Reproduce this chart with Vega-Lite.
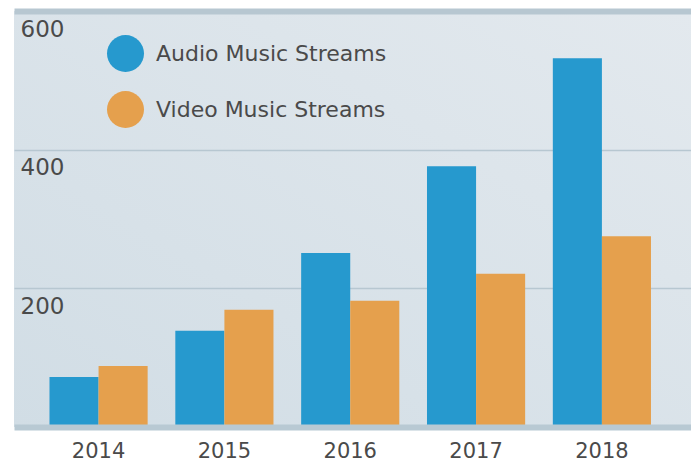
{
  "$schema": "https://vega.github.io/schema/vega-lite/v6.json",
  "width": 677,
  "height": 416,
  "autosize": {"type": "none"},
  "padding": {"left": 14, "top": 11, "right": 0, "bottom": 34},
  "background": "white",
  "config": {
    "font": "DejaVu Sans",
    "view": {
      "stroke": null,
      "fill": {"gradient": "linear", "x1": 0, "y1": 1, "x2": 1, "y2": 0,
        "stops": [{"offset": 0, "color": "#d1dde5"}, {"offset": 1, "color": "#e3e9ee"}]}
    }
  },
  "data": {"values": [
    {"year": "2014", "type": "Audio Music Streams", "value": 72},
    {"year": "2014", "type": "Video Music Streams", "value": 88},
    {"year": "2015", "type": "Audio Music Streams", "value": 139},
    {"year": "2015", "type": "Video Music Streams", "value": 169},
    {"year": "2016", "type": "Audio Music Streams", "value": 251},
    {"year": "2016", "type": "Video Music Streams", "value": 182},
    {"year": "2017", "type": "Audio Music Streams", "value": 376},
    {"year": "2017", "type": "Video Music Streams", "value": 221},
    {"year": "2018", "type": "Audio Music Streams", "value": 532},
    {"year": "2018", "type": "Video Music Streams", "value": 275}
  ]},
  "mark": {"type": "bar"},
  "encoding": {
    "x": {
      "field": "year", "type": "nominal",
      "scale": {"paddingInner": 0.22, "paddingOuter": 0.3, "align": 0.47},
      "axis": {
        "title": null, "ticks": false, "labelAngle": 0,
        "domain": true, "domainColor": "#b8c9d3", "domainWidth": 6, "zindex": 1,
        "labelFontSize": 21, "labelColor": "#4a4a4a",
        "labelBaseline": "alphabetic", "labelPadding": 30
      }
    },
    "xOffset": {"field": "type", "type": "nominal", "scale": {"paddingInner": 0, "paddingOuter": 0}},
    "y": {
      "field": "value", "type": "quantitative",
      "scale": {"domain": [0, 600], "nice": false},
      "axis": {
        "title": null, "ticks": false, "domain": false,
        "values": [200, 400, 600],
        "gridColor": "#b7c7d1",
        "gridWidth": {"condition": {"test": "datum.value == 600", "value": 6}, "value": 1.5},
        "labelAlign": "left", "labelPadding": -6, "labelBaseline": "alphabetic", "labelOffset": 25,
        "labelFontSize": 23, "labelColor": "#4a4a4a"
      }
    },
    "color": {
      "field": "type", "type": "nominal",
      "scale": {"domain": ["Audio Music Streams", "Video Music Streams"], "range": ["#2699ce", "#e5a04d"]},
      "legend": {
        "title": null, "orient": "none", "legendX": 93, "legendY": 24,
        "symbolType": "circle", "symbolSize": 1369, "symbolStrokeWidth": 0,
        "labelFontSize": 22, "labelColor": "#4a4a4a", "labelOffset": 12, "labelLimit": 500,
        "rowPadding": 19
      }
    }
  }
}
